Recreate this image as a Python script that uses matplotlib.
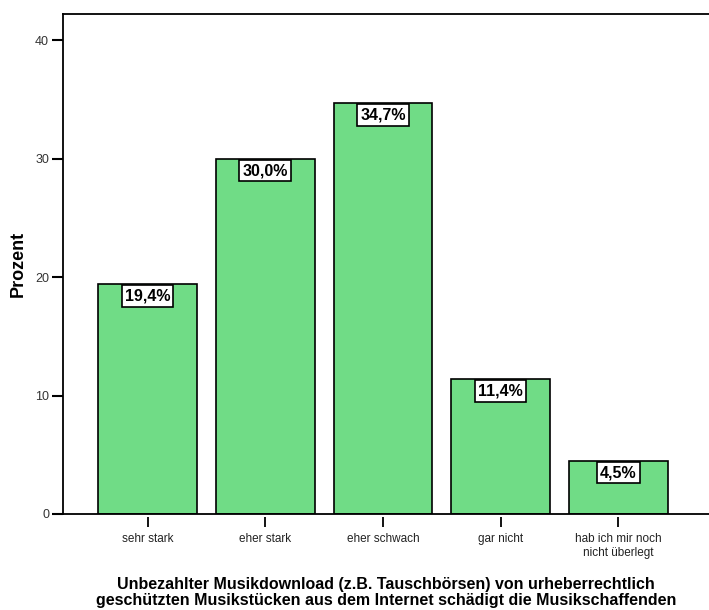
import matplotlib
matplotlib.use("Agg")
import matplotlib.pyplot as plt
import numpy as np

plt.rcParams['font.family'] = ['Liberation Sans', 'DejaVu Sans']

categories = ["sehr stark", "eher stark", "eher schwach", "gar nicht",
              "hab ich mir noch\nnicht überlegt"]
percent = [19.4, 30.0, 34.7, 11.4, 4.5]
bar_labels = ["19,4%", "30,0%", "34,7%", "11,4%", "4,5%"]

fig = plt.figure(figsize=(7.09, 6.10), dpi=100)
ax = fig.add_axes([0.0889, 0.1574, 0.9111, 0.8196])

x = np.arange(len(categories))
ax.bar(x, percent, 0.84, color='#70dc86', edgecolor='black', linewidth=1.2, zorder=2)

for xi, val, lab in zip(x, percent, bar_labels):
    ax.annotate(lab, (xi, val), xytext=(0, -3.2), textcoords='offset points',
                ha='center', va='top', fontsize=11.5, fontweight='bold',
                bbox=dict(boxstyle='square,pad=0.2', facecolor='white', edgecolor='black', linewidth=1.2),
                zorder=3)

ax.set_xlim(-0.718, 4.77)
ax.set_ylim(0, 42.2)
ax.set_yticks([0, 10, 20, 30, 40])
ax.tick_params(axis='y', length=8, width=1.5, labelsize=9, pad=2, colors='black', labelcolor='#333333')

ax.spines['right'].set_visible(False)
for s in ['left', 'top', 'bottom']:
    ax.spines[s].set_linewidth(1.3)

# x ticks sit slightly below the axis line
ax.set_xticks([])
sec = ax.secondary_xaxis(-0.007)
sec.set_xticks(x)
sec.set_xticklabels(categories, fontsize=8.5)
sec.spines['bottom'].set_visible(False)
sec.tick_params(length=7, width=1.3, pad=4, labelcolor='#222222')

ax.set_ylabel("Prozent", fontsize=13, fontweight='bold', labelpad=6)
sec.set_xlabel("Unbezahlter Musikdownload (z.B. Tauschbörsen) von urheberrechtlich\n"
               "geschützten Musikstücken aus dem Internet schädigt die Musikschaffenden",
               fontsize=11.5, fontweight='bold', linespacing=1.1, labelpad=13)

fig.savefig("out.png", dpi=100)
